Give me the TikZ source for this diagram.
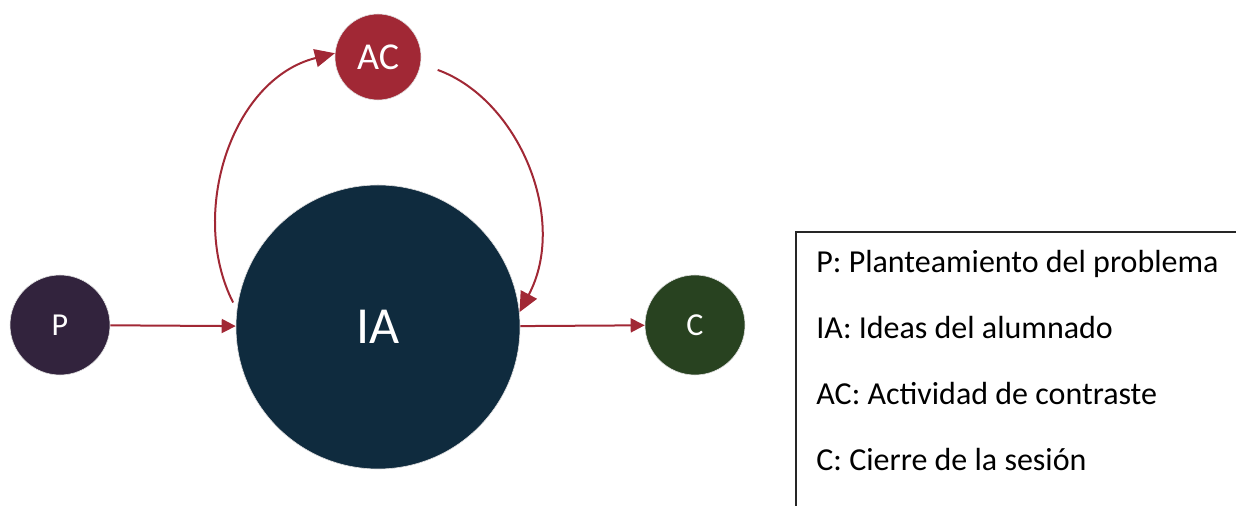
\documentclass[tikz,border=0pt]{standalone}
\usepackage{fontspec}
\setmainfont{Carlito}
\usetikzlibrary{arrows.meta, positioning, calc}
\definecolor{pcol}{HTML}{32233D}
\definecolor{iacol}{HTML}{0F2B3E}
\definecolor{accol}{HTML}{A12835}
\definecolor{ccol}{HTML}{284220}
\tikzset{
  stage/.style={circle, inner sep=0pt, text=white, draw=black!12, line width=0.3pt},
  flow/.style={draw=accol, line width=1pt, -{Triangle[length=7pt, width=7pt]}},
  loopflow/.style={flow, -{Triangle[length=10pt, width=9pt]}},
  keyline/.style={anchor=base west, inner sep=0pt, font=\fontsize{16}{19}\selectfont},
}

\begin{document}
\begin{tikzpicture}[x=0.5pt, y=-0.5pt]
      \useasboundingbox (0,0) rectangle (1236,506);
      \clip (0,0) rectangle (1236,506);
      % stages
      \node[stage, fill=pcol, minimum size=50pt, font=\fontsize{16}{16}\selectfont] (P) at (60,325) {P};
      \node[stage, fill=iacol, minimum size=142pt, font=\fontsize{26}{26}\selectfont] (IA) at (378,327) {IA};
      \node[stage, fill=accol, minimum size=43pt, font=\fontsize{19}{19}\selectfont] (AC) at (378,57) {AC};
      \node[stage, fill=ccol, minimum size=50pt, font=\fontsize{16}{16}\selectfont] (C) at (695,325) {C};
      % arrows
      \draw[flow] (P) -- (IA);
      \draw[flow] (IA) -- (C);
      \draw[loopflow, shorten <=4pt] (IA.173) to[out=117, in=194] (AC.175);
      \draw[loopflow, shorten <=9pt] (AC.-9) to[out=-20, in=62] (IA.6);
      % legend
      \node[draw=black!85, line width=0.8pt, anchor=north west, minimum width=300pt, minimum height=200pt] (key) at (795,231) {};
      \node[keyline] (keyP) at (816,273) {P: Planteamiento del problema};
      \node[keyline] (keyIA) at (816,339) {IA: Ideas del alumnado};
      \node[keyline] (keyAC) at (816,405) {AC: Actividad de contraste};
      \node[keyline] (keyC) at (816,471) {C: Cierre de la sesión};
\end{tikzpicture}
\end{document}
